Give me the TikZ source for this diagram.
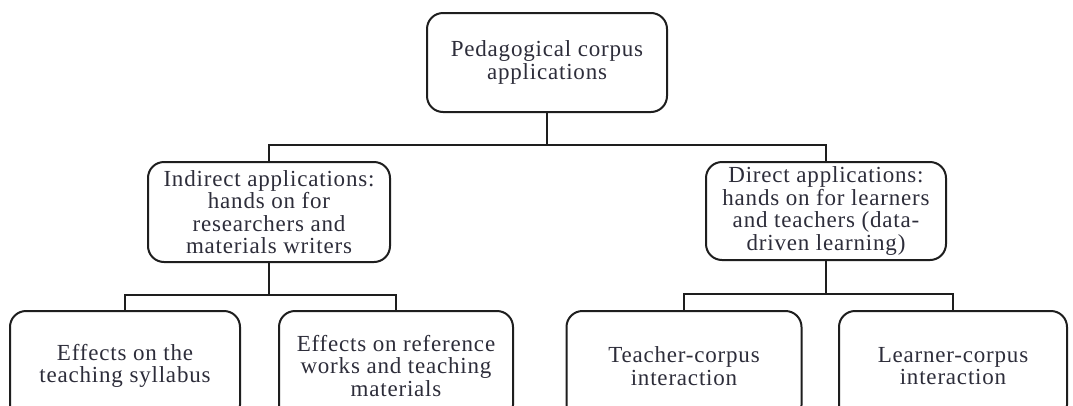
\documentclass[tikz,border=0pt]{standalone}
\usepackage{fontspec}
\setmainfont{Liberation Serif}[LetterSpace=3.5]
\definecolor{txt}{RGB}{45,45,58}
\definecolor{ln}{RGB}{30,30,30}
\begin{document}
\begin{tikzpicture}[x=1pt,y=-1pt,
  box/.style={draw=ln, line width=2pt, rounded corners=16pt, align=center,
    font=\fontsize{23}{22.5}\selectfont, text=txt, inner sep=0pt},
  link/.style={draw=ln, line width=2.2pt}]
\useasboundingbox (0,0) rectangle (1073,405);
\fill[white] (0,0) rectangle (1073,405);
\begin{scope}
\clip (0,0) rectangle (1073,405);
\node[box, minimum width=240pt, minimum height=99pt] (root) at (547,62.5) {Pedagogical corpus\\applications};
\node[box, minimum width=242pt, minimum height=100pt] (ind) at (269,212) {Indirect applications:\\hands on for\\researchers and\\materials writers};
\node[box, minimum width=240pt, minimum height=98pt] (dir) at (826,211) {Direct applications:\\hands on for learners\\and teachers (data-\\driven learning)};
\node[box, minimum width=230pt, minimum height=110pt] (b1) at (125,366) {Effects on the\\teaching syllabus};
\node[box, minimum width=234pt, minimum height=110pt] (b2) at (396,366) {Effects on reference\\works and teaching\\materials};
\node[box, minimum width=235pt, minimum height=110pt] (b3) at (684,366) {Teacher-corpus\\interaction};
\node[box, minimum width=228pt, minimum height=110pt] (b4) at (953,366) {Learner-corpus\\interaction};
\coordinate (j0) at (547,145);
\coordinate (j1) at (269,295);
\coordinate (j2) at (826,294);
\draw[link] (root.south) -- (j0);
\draw[link] (ind.north) |- (j0) -| (dir.north);
\draw[link] (ind.south) -- (j1);
\draw[link] (b1.north) |- (j1) -| (b2.north);
\draw[link] (dir.south) -- (j2);
\draw[link] (b3.north) |- (j2) -| (b4.north);
\end{scope}
\end{tikzpicture}
\end{document}
